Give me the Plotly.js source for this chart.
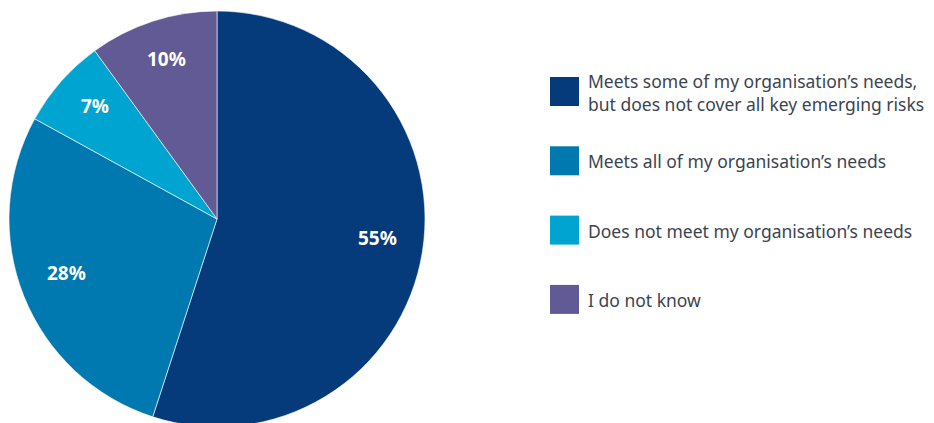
<!DOCTYPE html>
<html>
<head>
<meta charset="utf-8">
<script src="https://cdn.plot.ly/plotly-3.0.1.min.js"></script>
<style>
  html, body { margin: 0; padding: 0; overflow: hidden; background: #ffffff; }
  #chart { width: 934px; height: 440px; }
</style>
</head>
<body>
<div id="chart"></div>
<script>
// ---- data ----
const categories = [
  "Meets some of my organisation’s needs,<br>but does not cover all key emerging risks",
  "Meets all of my organisation’s needs",
  "Does not meet my organisation’s needs",
  "I do not know"
];
const values = [55, 28, 7, 10];
const colors = ["#053b7a", "#0079b1", "#00a4d1", "#625a95"];

// ---- layout constants (pixels) ----
const W = 934, H = 440;
const pieLeft = 9, pieRight = 425, pieTop = 11, pieBottom = 427;
const swX0 = 550, swSize = 29, textX = 586;
const legTop = 77, legStep = 69.3;
const labelRadiusFrac = 0.78, labelYShift = -6;
const textColor = "#3c4450";
const legendFont = "'Noto Sans', 'Open Sans', sans-serif";
const labelFont = "'Noto Sans', 'Open Sans', sans-serif";

const trace = {
  type: "pie",
  labels: categories,
  values: values,
  sort: false,
  direction: "clockwise",
  rotation: 0,
  marker: { colors: colors, line: { color: "#ffffff", width: 0.6 } },
  textinfo: "none",
  hoverinfo: "label+percent",
  domain: { x: [pieLeft / W, pieRight / W], y: [1 - pieBottom / H, 1 - pieTop / H] },
  showlegend: false
};

const shapes = [];
const annotations = [];

// legend built from the category list
categories.forEach((c, i) => {
  const top = legTop + i * legStep;
  shapes.push({
    type: "rect", xref: "paper", yref: "paper",
    x0: swX0 / W, x1: (swX0 + swSize) / W,
    y0: 1 - (top + swSize) / H, y1: 1 - top / H,
    fillcolor: colors[i], line: { width: 0 }
  });
  annotations.push({
    xref: "paper", yref: "paper",
    x: textX / W, y: 1 - (top + swSize / 2 + 0.5) / H,
    xanchor: "left", yanchor: "middle", align: "left",
    showarrow: false, text: c,
    font: { family: legendFont, size: 17.5, color: textColor }
  });
});

// percentage labels placed on each slice's bisector, derived from the values
const total = values.reduce((a, b) => a + b, 0);
const cx = (pieLeft + pieRight) / 2, cy = (pieTop + pieBottom) / 2;
const R = (pieRight - pieLeft) / 2;
let cum = 0;
values.forEach((v) => {
  const mid = (cum + v / 2) / total * 2 * Math.PI;
  cum += v;
  const px = cx + labelRadiusFrac * R * Math.sin(mid);
  const py = cy - labelRadiusFrac * R * Math.cos(mid) + labelYShift;
  annotations.push({
    xref: "paper", yref: "paper",
    x: px / W, y: 1 - py / H,
    xanchor: "center", yanchor: "middle",
    showarrow: false,
    text: "<b>" + Math.round(v / total * 100) + "%</b>",
    font: { family: labelFont, size: 19, color: "#ffffff" }
  });
});

const layout = {
  width: W, height: H,
  margin: { l: 0, r: 0, t: 0, b: 0 },
  paper_bgcolor: "#ffffff",
  plot_bgcolor: "#ffffff",
  showlegend: false,
  shapes: shapes,
  annotations: annotations
};

Plotly.newPlot("chart", [trace], layout, { displayModeBar: false, staticPlot: true });
</script>
</body>
</html>
